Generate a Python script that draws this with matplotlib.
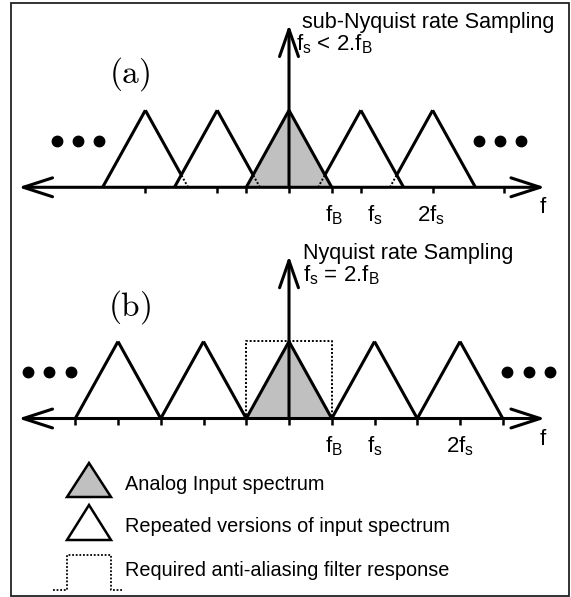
import numpy as np
import matplotlib.pyplot as plt
from matplotlib.patches import Polygon, Rectangle

plt.rcParams['font.family'] = ['Liberation Sans', 'DejaVu Sans']
plt.rcParams['mathtext.fontset'] = 'cm'

# frequencies in units of fB, amplitude normalised to 1
fB = 1.0
fs_a = 1.68   # sub-Nyquist
fs_b = 2.0    # Nyquist
orders = [-2, -1, 0, 1, 2]
ticks_a = [-2 * fs_a, -fs_a, -fB, 0, fB, fs_a, 2 * fs_a, 3 * fs_a]
ticks_b = list(np.arange(-5, 6) * fB)
tick_labels = [r'$\mathregular{f_B}$', r'$\mathregular{f_s}$', r'$\mathregular{2f_s}$']
label_x_a = [1.05, 2.01, 3.32]
label_x_b = [1.05, 2.01, 4.0]
dots_a = [-5.43, -4.94, -4.44]
dots_b = [-6.10, -5.61, -5.10]
titles = ['sub-Nyquist rate Sampling', 'Nyquist rate Sampling']
conditions = [r'$\mathregular{f_s}$ < 2.$\mathregular{f_B}$',
              r'$\mathregular{f_s}$ = 2.$\mathregular{f_B}$']
tags = [r'$\mathrm{(a)}$', r'$\mathrm{(b)}$']
legend_texts = ['Analog Input spectrum',
                'Repeated versions of input spectrum',
                'Required anti-aliasing filter response']

GRAY = '#c0c0c0'
LW = 2.2
H = 1.0  # triangle height


def leg(ax, x0, y0, x1, y1, dotted=False):
    if dotted:
        ax.plot([x0, x1], [y0, y1], color='k', lw=1.4, ls=(0, (1, 1)))
    else:
        ax.plot([x0, x1], [y0, y1], color='k', lw=LW, solid_capstyle='butt')


def draw_panel(ax, fs, ticks, label_x, dots, title, cond, tag,
               title_x, cond_x, tag_y, filt=False):
    ax.axis('off')
    ax.set_xlim(-6.760, 6.596)

    # overlap of neighbouring replicas
    y_int = max(0.0, H * (1 - fs / (2 * fB)))
    for k in orders:
        c = k * fs
        if k == 0:
            ax.add_patch(Polygon([[c - fB, 0], [c, H], [c + fB, 0]],
                                 closed=True, fc=GRAY, ec='none', zorder=1))
            leg(ax, c - fB, 0, c, H)
            leg(ax, c, H, c + fB, 0)
            continue
        # inner leg (towards the centre) and outer leg
        s = -1 if k > 0 else 1
        inner_base = c + s * fB
        outer_base = c - s * fB
        leg(ax, outer_base, 0, c, H)
        if y_int > 0:
            xi = inner_base - s * fB * y_int / H
            leg(ax, xi, y_int, c, H)
            leg(ax, inner_base, 0, xi, y_int, dotted=True)
        else:
            leg(ax, inner_base, 0, c, H)

    if filt:
        ax.plot([-fB, -fB, fB, fB], [0, H, H, 0], color='k', lw=1.4,
                ls=(0, (1, 1)), zorder=0)

    # frequency axis and ticks
    ax.annotate('', xy=(5.99, 0), xytext=(-6.33, 0),
                arrowprops=dict(arrowstyle='<->,head_length=2.1,head_width=0.68',
                                lw=LW, color='k', shrinkA=0, shrinkB=0,
                                mutation_scale=10))
    ax.annotate('', xy=(0, 2.11), xytext=(0, 0),
                arrowprops=dict(arrowstyle='->,head_length=1.95,head_width=0.68',
                                lw=LW, color='k', shrinkA=0, shrinkB=0,
                                mutation_scale=10))
    ax.vlines(ticks, -0.08, 0, color='k', lw=1.8)

    for x, t in zip(label_x, tick_labels):
        ax.text(x, -0.44, t, ha='center', va='baseline', fontsize=16)
    ax.text(5.93, -0.34, 'f', ha='center', va='baseline', fontsize=16)

    ax.plot(dots, [0.6] * 3, 'o', color='k', ms=7.5)
    ax.plot([-d for d in dots], [0.6] * 3, 'o', color='k', ms=7.5)

    ax.text(title_x, 2.065, title, ha='left', va='baseline', fontsize=15.5)
    ax.text(cond_x, 1.78, cond, ha='left', va='baseline', fontsize=16)
    ax.text(-3.72, tag_y, tag, ha='center', va='center', fontsize=24)


fig = plt.figure(figsize=(5.71, 5.97), dpi=100)
ax_a = fig.add_axes([0, 1 - 232 / 597, 1, 232 / 597])
ax_b = fig.add_axes([0, 1 - 455 / 597, 1, 223 / 597])
ax_leg = fig.add_axes([0, 0, 1, 142 / 597])

draw_panel(ax_a, fs_a, ticks_a, label_x_a, dots_a, titles[0], conditions[0],
           tags[0], 0.30, 0.16, 1.47)
ax_a.set_ylim(-0.5805, 2.432)
draw_panel(ax_b, fs_b, ticks_b, label_x_b, dots_b, titles[1], conditions[1],
           tags[1], 0.33, 0.33, 1.45, filt=True)
ax_b.set_ylim(-0.474, 2.422)

# legend (pixel-like coordinates)
ax_leg.axis('off')
ax_leg.set_xlim(0, 571)
ax_leg.set_ylim(597, 455)
tri_x = np.array([0, 0.5, 1.0])
tri_y = np.array([0, 1.0, 0])
ax_leg.add_patch(Polygon(np.c_[67 + 44 * tri_x, 497 - 34 * tri_y], closed=True,
                         fc=GRAY, ec='k', lw=1.8))
ax_leg.add_patch(Polygon(np.c_[67 + 44 * tri_x, 540 - 35 * tri_y], closed=True,
                         fc='white', ec='k', lw=1.8))
ax_leg.plot([53, 66.5, 66.5, 111, 111, 122], [590, 590, 555, 555, 590, 590],
            color='k', lw=1.3, ls=(0, (1, 1)))
for y, t in zip([490, 531.5, 576.5], legend_texts):
    ax_leg.text(125, y, t, ha='left', va='baseline', fontsize=14.3)

fig.add_artist(Rectangle((11 / 571, 1 / 597), 558 / 571, 593 / 597,
                         transform=fig.transFigure, fill=False,
                         ec='#222222', lw=1.3))

fig.savefig('out.png', dpi=100)
